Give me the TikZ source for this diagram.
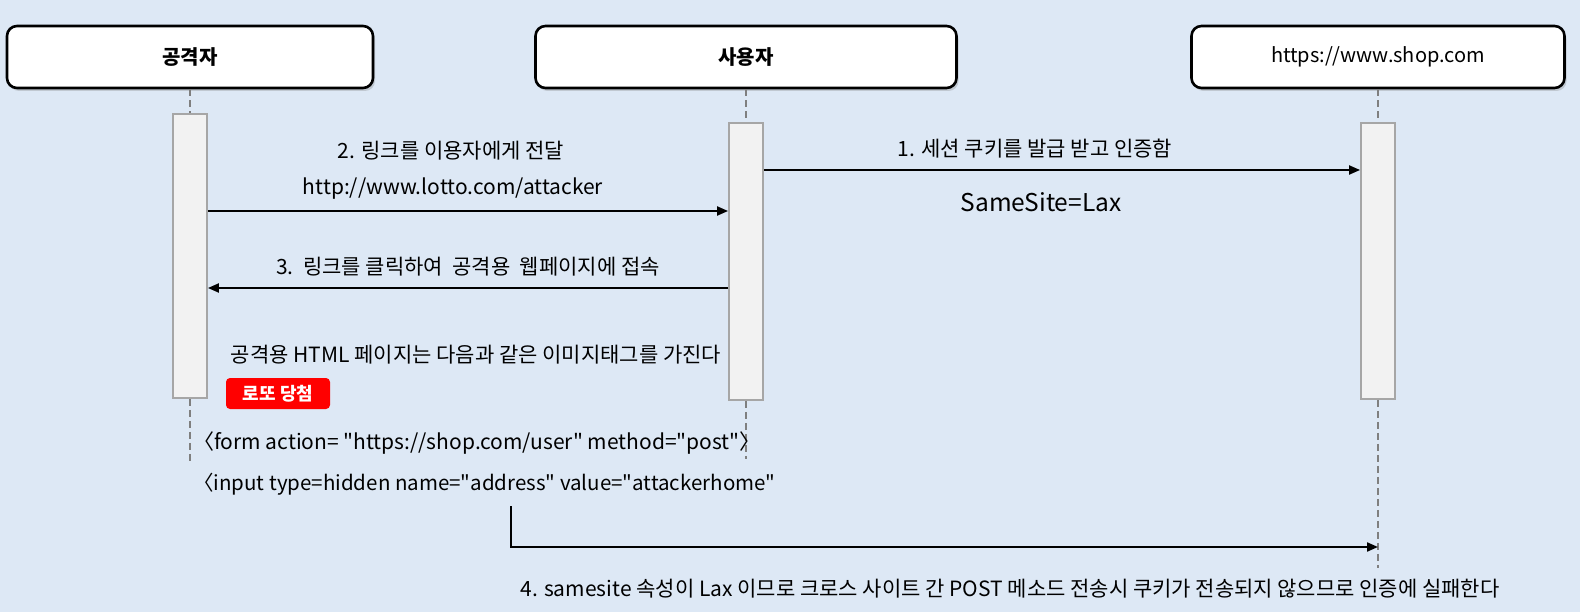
\documentclass[tikz,border=0pt]{standalone}
\usepackage{fontspec}
\setmainfont{Noto Sans CJK KR}[Ligatures=TeXOff]
\usetikzlibrary{arrows.meta,positioning,shadows}
\definecolor{bgblue}{RGB}{221,232,245}
\definecolor{barfill}{RGB}{242,242,242}
\definecolor{bardraw}{RGB}{166,166,166}
\definecolor{lifegray}{RGB}{127,127,127}
\definecolor{btnred}{RGB}{255,0,0}

\begin{document}
\begin{tikzpicture}[x=1pt,y=-1pt,
  actor/.style={draw=black,line width=2.6pt,fill=white,rounded corners=10pt,minimum height=62pt,
    font=\fontsize{20}{24}\selectfont,drop shadow={shadow xshift=2pt,shadow yshift=-3pt,opacity=0.3}},
  actbar/.style={draw=bardraw,line width=1.8pt,fill=barfill,minimum width=34pt},
  life/.style={draw=lifegray,line width=2.4pt,dash pattern=on 7pt off 4pt},
  msg/.style={line width=2pt,-{Triangle[length=11pt,width=9pt]}},
  lbl/.style={font=\fontsize{21}{25}\selectfont,inner sep=0pt}]
\fill[bgblue] (0,0) rectangle (1580,612);

\node[actor,minimum width=366pt,font=\fontsize{20}{24}\selectfont\bfseries] (atk) at (190,57) {공격자};
\node[actor,minimum width=421pt,font=\fontsize{20}{24}\selectfont\bfseries] (usr) at (746,57) {사용자};
\node[actor,minimum width=373pt] (shop) at (1378,57) {https://www.shop.com};

\node[actbar,minimum height=284pt] (atkbar) at (190,256) {};
\node[actbar,minimum height=277pt] (usrbar) at (746,261.5) {};
\node[actbar,minimum height=276pt] (shopbar) at (1378,261) {};

\coordinate (atkend) at (190,463);
\coordinate (usrend) at (746,459);
\coordinate (shopend) at (1378,568);
\draw[life] (atk.south) -- (atkbar.north);
\draw[life] (usr.south) -- (usrbar.north);
\draw[life] (shop.south) -- (shopbar.north);
\draw[life] (atkbar.south) -- (atkend);
\draw[life] (usrbar.south) -- (usrend);
\draw[life] (shopbar.south) -- (shopend);

\coordinate (r1) at (0,170);
\coordinate (r2) at (0,211);
\coordinate (r3) at (0,288);
\coordinate (r4) at (0,547);
\coordinate (post) at (511,506);
\draw[msg] (usrbar.east |- r1) -- (shopbar.west |- r1);
\draw[msg] (atkbar.east |- r2) -- (usrbar.west |- r2);
\draw[msg] (usrbar.west |- r3) -- (atkbar.east |- r3);
\draw[msg] (post) |- (shopend |- r4);

\node[lbl] (l1) at (1035,149) {1. 세션 쿠키를 발급 받고 인증함};
\node[lbl,font=\fontsize{24.5}{28}\selectfont] (lax) at (1041,202) {SameSite=Lax};
\node[lbl] (l2) at (451,151) {2. 링크를 이용자에게 전달};
\node[lbl] (url) at (453,189) {http://www.lotto.com/attacker};
\node[lbl] (l3) at (468,267) {3.\ \ 링크를 클릭하여\ \ 공격용\ \ 웹페이지에 접속};
\node[lbl] (note) at (476,355) {공격용 HTML 페이지는 다음과 같은 이미지태그를 가진다};
% red button of the attacker page
\node[fill=btnred,rounded corners=4pt,minimum width=104pt,minimum height=31pt,text=white,
  font=\fontsize{18}{21}\selectfont\bfseries] (btn) at (278,393.5) {로또 당첨};
\node[lbl,anchor=west] (form) at (193,443) {〈form action= "https://shop.com/user" method="post"〉};
\node[lbl,anchor=west,font=\fontsize{20.5}{25}\selectfont] (input) at (193,484) {〈input type=hidden name="address" value="attackerhome"};
\node[lbl] (l4) at (1010,589) {4. samesite 속성이 Lax 이므로 크로스 사이트 간 POST 메소드 전송시 쿠키가 전송되지 않으므로 인증에 실패한다};
\end{tikzpicture}
\end{document}
